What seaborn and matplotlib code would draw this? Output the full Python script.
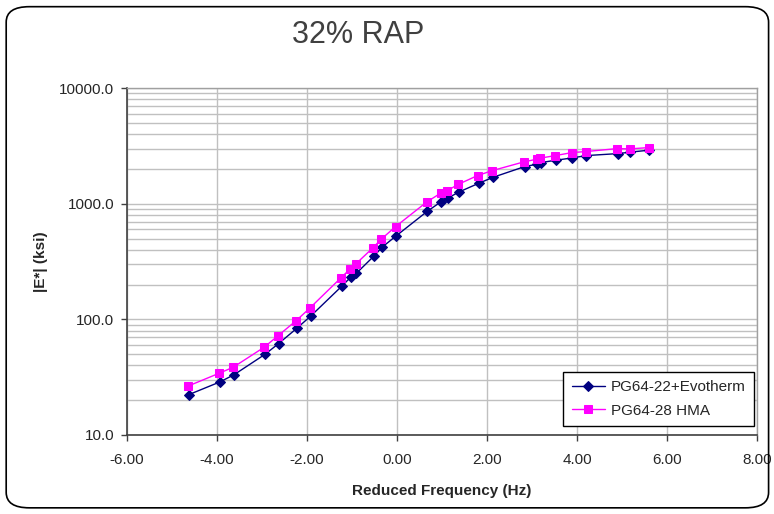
import matplotlib
matplotlib.use("Agg")
import matplotlib.pyplot as plt
import matplotlib.ticker as mticker
from matplotlib.patches import FancyBboxPatch
import pandas as pd
import seaborn as sns

# Data
freq_evo = [-4.63, -3.94, -3.62, -2.93, -2.63, -2.23, -1.92, -1.22, -1.03, -0.90,
            -0.51, -0.33, -0.02, 0.67, 0.98, 1.13, 1.38, 1.82, 2.14, 2.84,
            3.12, 3.20, 3.53, 3.90, 4.21, 4.91, 5.18, 5.61]
mod_evo = [22.3, 28.7, 33.2, 49.9, 61.7, 83.4, 106.4, 194.5, 231, 250.6,
           353, 420.6, 526, 857, 1040, 1117, 1264, 1503, 1694, 2095,
           2198, 2267, 2377, 2489, 2607, 2711, 2790, 2905]

freq_hma = [-4.64, -3.95, -3.64, -2.95, -2.64, -2.24, -1.94, -1.24, -1.04, -0.92,
            -0.53, -0.35, -0.03, 0.66, 0.97, 1.11, 1.36, 1.79, 2.12, 2.82,
            3.11, 3.18, 3.52, 3.89, 4.19, 4.90, 5.17, 5.60]
mod_hma = [26.5, 34.2, 38.5, 57.4, 72.3, 97.4, 124.7, 229.5, 273, 299.7,
           417, 493, 634, 1033, 1233, 1292, 1469, 1750, 1933, 2299,
           2427, 2475, 2607, 2767, 2823, 2997, 2978, 3057]

labels = ["PG64-22+Evotherm", "PG64-28 HMA"]

sns.set_theme(style="white")
plt.rcParams['font.family'] = ['Liberation Sans', 'DejaVu Sans']

df_evo = pd.DataFrame({'freq': freq_evo, 'mod': mod_evo})
df_hma = pd.DataFrame({'freq': freq_hma, 'mod': mod_hma})

fig = plt.figure(figsize=(7.74, 5.14), dpi=100)
ax = fig.add_axes([0.164, 0.1537, 0.814, 0.675])

sns.lineplot(data=df_evo, x='freq', y='mod', ax=ax, color='#000080', marker='D',
             markersize=4.8, markeredgecolor='#000080', linewidth=1, sort=False,
             label=labels[0])
sns.lineplot(data=df_hma, x='freq', y='mod', ax=ax, color='#FF00FF', marker='s',
             markersize=5.2, markeredgecolor='#FF00FF', linewidth=1, sort=False,
             label=labels[1])

ax.set_yscale('log')
ax.set_ylim(10, 10000)
ax.set_xlim(-6, 8)
ax.xaxis.set_major_locator(mticker.MultipleLocator(2))
ax.xaxis.set_major_formatter(mticker.FormatStrFormatter('%.2f'))
ax.yaxis.set_major_locator(mticker.LogLocator(base=10))
ax.yaxis.set_minor_locator(mticker.LogLocator(base=10, subs=range(2, 10)))
ax.yaxis.set_major_formatter(mticker.FormatStrFormatter('%.1f'))
ax.yaxis.set_minor_formatter(mticker.NullFormatter())

ax.grid(True, which='major', axis='both', color='#c0c0c0', linewidth=1)
ax.grid(True, which='minor', axis='y', color='#c0c0c0', linewidth=1)
ax.set_axisbelow(True)

for side in ['top', 'right']:
    ax.spines[side].set_color('#a0a0a0')
    ax.spines[side].set_linewidth(1)
for side in ['left', 'bottom']:
    ax.spines[side].set_color('#404040')
    ax.spines[side].set_linewidth(1.2)

ax.tick_params(axis='both', which='major', direction='out', length=4, width=1,
               color='#404040', labelsize=11, left=True, bottom=True)
ax.tick_params(axis='x', which='major', pad=9)
ax.tick_params(axis='y', which='major', pad=5)
ax.tick_params(axis='y', which='minor', left=False)

ax.set_xlabel('Reduced Frequency (Hz)', fontsize=11, fontweight='bold', labelpad=12)
ax.set_ylabel('|E*| (ksi)', fontsize=11, fontweight='bold', labelpad=8)

fig.text(0.463, 0.932, '32% RAP', fontsize=22, color='#404040', ha='center', va='center')

leg = ax.legend(loc='lower right', bbox_to_anchor=(0.995, 0.026), fontsize=11,
                frameon=True, fancybox=False, edgecolor='black', framealpha=1,
                borderpad=0.55, borderaxespad=0, handlelength=2.2,
                handletextpad=0.35, labelspacing=0.6)
leg.get_frame().set_linewidth(1)

border = FancyBboxPatch((0.008, 0.012), 0.985, 0.975, transform=fig.transFigure,
                        boxstyle='round,pad=0,rounding_size=0.03',
                        facecolor='none', edgecolor='black', linewidth=1.2)
fig.patches.append(border)

fig.savefig('out.png', dpi=100)
